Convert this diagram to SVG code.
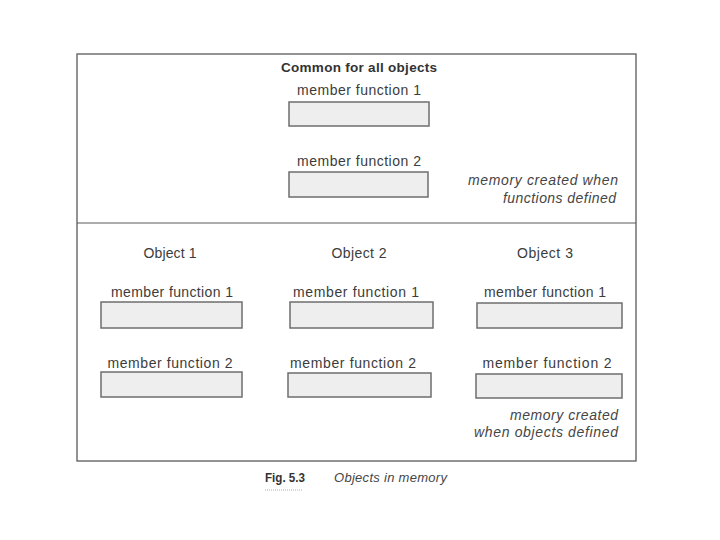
<svg xmlns="http://www.w3.org/2000/svg" width="720" height="540" viewBox="0 0 720 540">
  <style>
    .frame { fill: none; stroke: #5a5a5a; stroke-width: 1.3; }
    .div { stroke: #5a5a5a; stroke-width: 1.2; }
    .box { fill: #eeeeee; stroke: #6e6e6e; stroke-width: 1.5; }
    .lbl { font-family: "Liberation Sans", Arial, sans-serif; font-size: 14px; fill: #3c3c3c; text-anchor: middle; }
    .title { font-family: "Liberation Sans", Arial, sans-serif; font-size: 13.5px; font-weight: bold; fill: #333; text-anchor: middle; }
    .note { font-family: "Liberation Sans", Arial, sans-serif; font-size: 14px; font-style: italic; fill: #454545; text-anchor: end; }
    .figno { font-family: "Liberation Sans", Arial, sans-serif; font-size: 12.5px; font-weight: bold; fill: #333; }
    .figcap { font-family: "Liberation Sans", Arial, sans-serif; font-size: 13px; font-style: italic; fill: #454545; }
  </style>
  <rect width="720" height="540" fill="#ffffff"/>

  <g id="frame">
    <rect class="frame" x="77" y="54" width="559" height="407"/>
    <line class="div" x1="77" y1="223" x2="636" y2="223"/>
  </g>

  <g id="common">
    <text class="title" x="359" y="72" textLength="156" lengthAdjust="spacing">Common for all objects</text>
    <g id="common-mf1">
      <text class="lbl" x="359" y="95" textLength="124" lengthAdjust="spacing">member function 1</text>
      <rect class="box" x="289" y="102" width="140" height="24"/>
    </g>
    <g id="common-mf2">
      <text class="lbl" x="359" y="166" textLength="124" lengthAdjust="spacing">member function 2</text>
      <rect class="box" x="289" y="172" width="139" height="25"/>
    </g>
    <text class="note" x="618" y="185" textLength="150" lengthAdjust="spacing">memory created when</text>
    <text class="note" x="616" y="203" textLength="113" lengthAdjust="spacing">functions defined</text>
  </g>

  <g id="object1">
    <text class="lbl" x="170" y="258" textLength="53" lengthAdjust="spacing">Object 1</text>
    <text class="lbl" x="172" y="297" textLength="122" lengthAdjust="spacing">member function 1</text>
    <rect class="box" x="101" y="302" width="141" height="26"/>
    <text class="lbl" x="170" y="368" textLength="125" lengthAdjust="spacing">member function 2</text>
    <rect class="box" x="101" y="372" width="141" height="25"/>
  </g>

  <g id="object2">
    <text class="lbl" x="359" y="258" textLength="55" lengthAdjust="spacing">Object 2</text>
    <text class="lbl" x="356" y="297" textLength="126" lengthAdjust="spacing">member function 1</text>
    <rect class="box" x="290" y="302" width="143" height="26"/>
    <text class="lbl" x="353" y="368" textLength="126" lengthAdjust="spacing">member function 2</text>
    <rect class="box" x="288" y="373" width="143" height="24"/>
  </g>

  <g id="object3">
    <text class="lbl" x="545" y="258" textLength="56" lengthAdjust="spacing">Object 3</text>
    <text class="lbl" x="545" y="297" textLength="122" lengthAdjust="spacing">member function 1</text>
    <rect class="box" x="477" y="303" width="145" height="25"/>
    <text class="lbl" x="547" y="368" textLength="129" lengthAdjust="spacing">member function 2</text>
    <rect class="box" x="476" y="374" width="146" height="24"/>
    <text class="note" x="618" y="420" textLength="108" lengthAdjust="spacing">memory created</text>
    <text class="note" x="618" y="437" textLength="144" lengthAdjust="spacing">when objects defined</text>
  </g>

  <g id="connectors"></g>

  <g id="caption">
    <text class="figno" x="265" y="482" textLength="40" lengthAdjust="spacingAndGlyphs">Fig. 5.3</text>
    <line x1="265" y1="490" x2="303" y2="490" stroke="#999" stroke-width="0.8" stroke-dasharray="1 1"/>
    <text class="figcap" x="334" y="482" textLength="113" lengthAdjust="spacing">Objects in memory</text>
  </g>
</svg>
